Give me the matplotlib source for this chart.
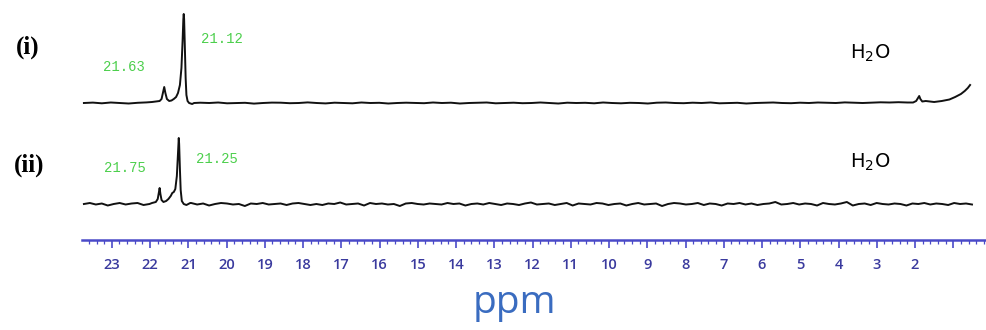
import numpy as np
import matplotlib.pyplot as plt
from matplotlib.ticker import FixedLocator, MultipleLocator, FixedFormatter

# spectrum (i): peak region, water bump, rising end (intensity in px above baseline)
peak_ppm_i = [21.95, 21.85, 21.75, 21.70, 21.66, 21.63, 21.60, 21.56, 21.50, 21.44,
              21.38, 21.32, 21.27, 21.22, 21.18, 21.15, 21.13, 21.12, 21.11, 21.09,
              21.07, 21.05, 21.02, 20.98, 20.90, 20.85]
peak_val_i = [1, 1.5, 2, 4, 11, 16, 10, 4, 2, 2.5,
              4, 6, 10, 18, 35, 62, 84, 89, 84, 55,
              25, 8, 2, 0, -1, 0]
bump_ppm_i = [2.05, 1.97, 1.92, 1.89, 1.86, 1.81, 1.72]
bump_val_i = [0.5, 2, 5, 7, 4, 1.5, 2]
end_ppm_i = [1.5, 1.3, 1.1, 0.95, 0.8, 0.7, 0.62, 0.56]
end_val_i = [1, 2, 3.5, 6, 9, 12, 15, 18]
noise_i = [0, 0.4, -0.3, 0.5, 0, -0.5, 0.2, 0.6, 0, -0.3,
           0.4, 0.1, -0.5, 0.3, 0, 0.5, -0.3, 0, 0.2, -0.6,
           0, 0.4, 0.3, -0.2, 0, 0.6, 0, -0.4, 0.3, 0,
           -0.3, 0.5, 0, 0.2, -0.5, 0, 0.3, 0, -0.2, 0.5,
           0, 0.3, -0.5, 0, 0.2, 0.5, -0.3, 0, 0.3, -0.2,
           0, 0.5, 0, -0.5, 0.3, 0, 0.2, -0.3, 0.5, 0,
           -0.3, 0.2, 0, -0.5, 0.3, 0.5, 0, -0.2, 0.3, 0,
           0.5, -0.3, 0, 0.2, -0.5, 0, 0.3, 0.5, 0, -0.2,
           0.3, 0, 0.5, 0.3, 0, 0.6, 0.3, 0, 0.4, 0.7,
           0.5, 0.8, 0.5, 0.9, 1, 1.2, 1, 1.3, 1.5, 1.6]

# spectrum (ii)
peak_ppm_ii = [21.95, 21.85, 21.80, 21.77, 21.75, 21.73, 21.70, 21.65, 21.58, 21.52,
               21.46, 21.42, 21.38, 21.34, 21.30, 21.27, 21.25, 21.24, 21.22, 21.20,
               21.17, 21.12, 21.05, 20.95]
peak_val_ii = [1, 2, 5, 12, 16, 10, 4, 2, 3, 5,
               8, 11, 12, 15, 28, 52, 66, 60, 35, 14,
               3, 0, -1, 1]
noise_ii = [0, 1, -0.5, 0.5, -1.5, 0, 1, -0.5, 0.5, 1, -1, 0, 1.5, -0.5, 0, -1, 0.5, 0, 1, -0.5,
            0.5, -1.5, 0, 1, 0.5, -0.5, 0, -2, 0.5, 0, 1, -0.5, 0, 0.5, -1, 0.5, 1, 0, -1, 0,
            -1, 0.5, 0, 1.5, -0.5, 0, 0.5, -1.5, 1, 0, 0.5, -0.5, 0, -2, 0.5, 1, 0, -0.5, 0.5, 0,
            -0.5, 1, 0, 0.5, -1.5, 0, 0.5, -0.5, 1, 0, -1, 0.5, 0, -1, 0.5, 1.5, -0.5, 0, 0.5, -1,
            0, 1, -1.5, 0.5, 0, -0.5, 1, 0.5, -1, 0, 0.5, -1.5, 0, 1, -0.5, 0, 0.5, -2, 0, 1,
            0.5, -0.5, 0, 1, -1, 0.5, 0, -1.5, 0.5, 0, 1, -0.5, 0.5, -1, 0, 0.5, 2, -0.5, 0, 1,
            -0.5, 0.5, 0, -1.5, 1, 0, -0.5, 0.5, 2, -1.5, 0, 0.5, -1, 1, 0, -0.5, 0.5, 0, -1.5, 0.5,
            0, 1, -0.5, 0.5, 0, -1, 1, 0, 0.5, -0.5]

major_ticks = list(range(1, 24))
tick_labels = ["" if t == 1 else str(t) for t in major_ticks]


def build(start, stop, noise, features):
    bx = np.linspace(start, stop, len(noise))
    by = np.array(noise, dtype=float)
    keep = np.ones(len(bx), bool)
    for fx, fy in features:
        keep &= ~((bx <= max(fx)) & (bx >= min(fx)))
    x = np.concatenate([bx[keep]] + [np.array(f[0]) for f in features])
    y = np.concatenate([by[keep]] + [np.array(f[1], dtype=float) for f in features])
    order = np.argsort(-x)
    return x[order], y[order]


W, H = 987, 330
fig = plt.figure(figsize=(W / 100, H / 100), dpi=100)
ax = fig.add_axes([82 / W, 90 / H, (985 - 82) / W, 240 / H])

x1, y1 = build(23.73, 0.56, noise_i, [(peak_ppm_i, peak_val_i), (bump_ppm_i, bump_val_i), (end_ppm_i, end_val_i)])
x2, y2 = build(23.73, 0.51, noise_ii, [(peak_ppm_ii, peak_val_ii)])

ax.plot(x1, y1 + 137, color="#111111", lw=1.4)
ax.plot(x2, y2 + 36, color="#111111", lw=1.4)

ax.set_xlim(23.78, 0.17)
ax.set_ylim(0, 240)

axis_col = "#4a4ac8"
for s in ["top", "right", "left"]:
    ax.spines[s].set_visible(False)
ax.spines["bottom"].set_color(axis_col)
ax.spines["bottom"].set_linewidth(1.8)
ax.set_yticks([])
ax.xaxis.set_major_locator(FixedLocator(major_ticks))
ax.xaxis.set_major_formatter(FixedFormatter(tick_labels))
ax.xaxis.set_minor_locator(MultipleLocator(0.2))
ax.tick_params(axis="x", which="major", length=6, width=1.2, color=axis_col,
               labelcolor="#3a3a9e", labelsize=10.5, pad=7)
ax.tick_params(axis="x", which="minor", length=3, width=0.9, color=axis_col)
for lab in ax.get_xticklabels():
    lab.set_fontfamily("Open Sans")
    lab.set_fontweight("semibold")


def ftext(px, py, s, **kw):
    fig.text(px / W, 1 - py / H, s, **kw)


ftext(514, 313, "ppm", ha="center", va="baseline", fontsize=28,
      color="#3a6cc0", family="Open Sans")
ftext(28, 47, "(i)", ha="center", va="center", fontsize=18,
      family="Liberation Serif", weight="bold")
ftext(29, 165, "(ii)", ha="center", va="center", fontsize=18,
      family="Liberation Serif", weight="bold")

green = "#4ccf4c"
for px, py, s in [(124, 67, "21.63"), (222, 39, "21.12"), (125, 168, "21.75"), (217, 159, "21.25")]:
    ftext(px, py, s, ha="center", va="center", fontsize=10, color=green,
          family="Liberation Mono")

plt.rcParams["mathtext.fontset"] = "dejavusans"
ftext(870, 53, "H$_2$O", ha="center", va="center", fontsize=14)
ftext(870, 162, "H$_2$O", ha="center", va="center", fontsize=14)

fig.savefig("out.png", dpi=100)
